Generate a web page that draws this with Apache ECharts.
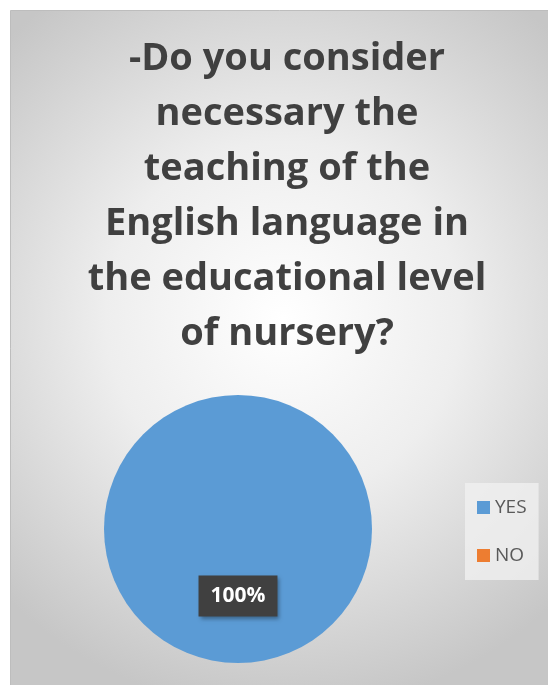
<!DOCTYPE html>
<html>
<head>
<meta charset="utf-8">
<script src="https://cdn.jsdelivr.net/npm/echarts@6/dist/echarts.min.js"></script>
<style>
  html, body { margin: 0; padding: 0; background: #ffffff; }
  #chart { width: 548px; height: 685px; }
</style>
</head>
<body>
<div id="chart"></div>
<script>
const titleLines = [
  '-Do you consider',
  'necessary the',
  'teaching of the',
  'English language in',
  'the educational level',
  'of nursery?'
]
const categories = ['YES', 'NO']
const values = [100, 0]
const colors = ['#5b9bd5', '#ed7d31']

const chart = echarts.init(document.getElementById('chart'))

chart.setOption({
  animation: false,
  graphic: [
    {
      type: 'rect',
      z: -10,
      shape: { x: 10.5, y: 10.5, width: 545, height: 685 },
      style: {
        fill: new echarts.graphic.RadialGradient(0.5, 0.45, 0.72, [
          { offset: 0, color: '#ffffff' },
          { offset: 0.45, color: '#eeeeee' },
          { offset: 1, color: '#c6c6c6' },
        ]),
        stroke: '#bdbdbd',
        lineWidth: 1,
      },
    },
  ],
  title: {
    text: titleLines.join('\n'),
    left: 282,
    top: 27,
    textAlign: 'center',
    textStyle: {
      fontFamily: 'Open Sans',
      fontSize: 38,
      fontWeight: 'bold',
      color: '#404040',
      lineHeight: 55,
    },
  },
  legend: {
    data: categories,
    orient: 'vertical',
    left: 465,
    top: 483,
    padding: [15, 12, 15, 12],
    itemWidth: 13,
    itemHeight: 13,
    itemGap: 29,
    icon: 'rect',
    backgroundColor: 'rgba(240,240,240,0.8)',
    textStyle: { color: '#595959', fontSize: 19, fontFamily: 'Open Sans' },
  },
  series: [
    {
      type: 'pie',
      center: [238, 529],
      radius: [0, 134],
      startAngle: 90,
      color: colors,
      avoidLabelOverlap: false,
      data: categories.map((name, i) => ({
        name,
        value: values[i],
        label: { show: values[i] > 0 },
      })),
      label: {
        position: 'inside',
        formatter: '{d}%',
        color: '#ffffff',
        fontFamily: 'Open Sans',
        fontWeight: 'bold',
        fontSize: 21,
        backgroundColor: '#404040',
        padding: [10, 12, 10, 12],
        offset: [0, -3],
        shadowColor: 'rgba(0,0,0,0.35)',
        shadowBlur: 4,
        shadowOffsetX: 2,
        shadowOffsetY: 2,
      },
      labelLine: { show: false },
      emphasis: { disabled: true },
    },
  ],
})
</script>
</body>
</html>
